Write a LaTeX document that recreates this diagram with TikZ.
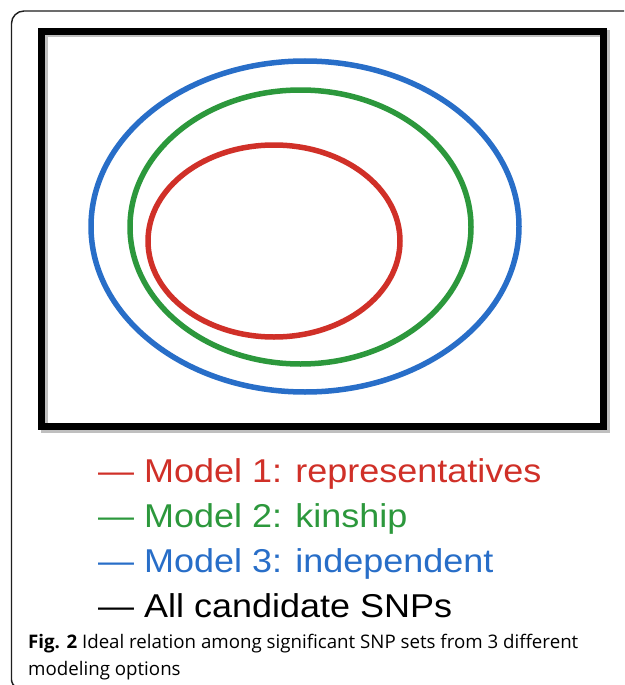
\documentclass[tikz,border=0pt]{standalone}
\usepackage{fontspec}
\setmainfont{Liberation Sans}
\newfontfamily\capfont{Open Sans}
\definecolor{mred}{RGB}{208,48,40}
\definecolor{mgreen}{RGB}{44,152,60}
\definecolor{mblue}{RGB}{40,110,200}
\definecolor{frame}{RGB}{30,30,30}
\tikzset{
  ring/.style={line width=5.5pt},
  legend/.style={anchor=base west, inner sep=0pt, font=\fontsize{33}{33}\selectfont, xscale=1.09, transform shape},
  captxt/.style={anchor=base west, inner sep=0pt, font=\capfont\fontsize{18.7}{18.7}\selectfont},
}
\begin{document}
\begin{tikzpicture}[x=1pt,y=-1pt]
\useasboundingbox (0,0) rectangle (624,685);
\fill[white] (0,0) rectangle (624,685);
% outer figure frame
\coordinate (ftr) at (624,11);
\coordinate (ftl) at (11.5,11);
\coordinate (fbl) at (11.5,681);
\coordinate (fend) at (14,685);
\draw[frame, line width=1.4pt, rounded corners=12.5pt] (ftr) -- (ftl) -- (fbl);
\draw[frame, line width=1.4pt] (fbl) to[out=90,in=180] (fend);
% shadow of the rectangle
\draw[black!25, line width=7pt] (44,34) rectangle (606,429);
% black rectangle
\draw[black, line width=7pt] (41.5,31.5) rectangle (603,426);
% ellipses
\draw[ring, mblue]  (305,226.5) ellipse[x radius=214, y radius=165.5];
\draw[ring, mgreen] (300.5,227) ellipse[x radius=170.5, y radius=137];
\draw[ring, mred]   (274,241) ellipse[x radius=126, y radius=96];
% legend
\node[legend, text=mred]   (l1) at (98,482) {— Model 1: representatives};
\node[legend, text=mgreen] (l2) at (98,527) {— Model 2: kinship};
\node[legend, text=mblue]  (l3) at (98,572) {— Model 3: independent};
\node[legend, text=black]  (l4) at (98,617) {— All candidate SNPs};
% caption
\node[captxt] (c1) at (28,648) {\textbf{Fig. 2} Ideal relation among significant SNP sets from 3 different};
\node[captxt] (c2) at (28,675) {modeling options};
\end{tikzpicture}
\end{document}
